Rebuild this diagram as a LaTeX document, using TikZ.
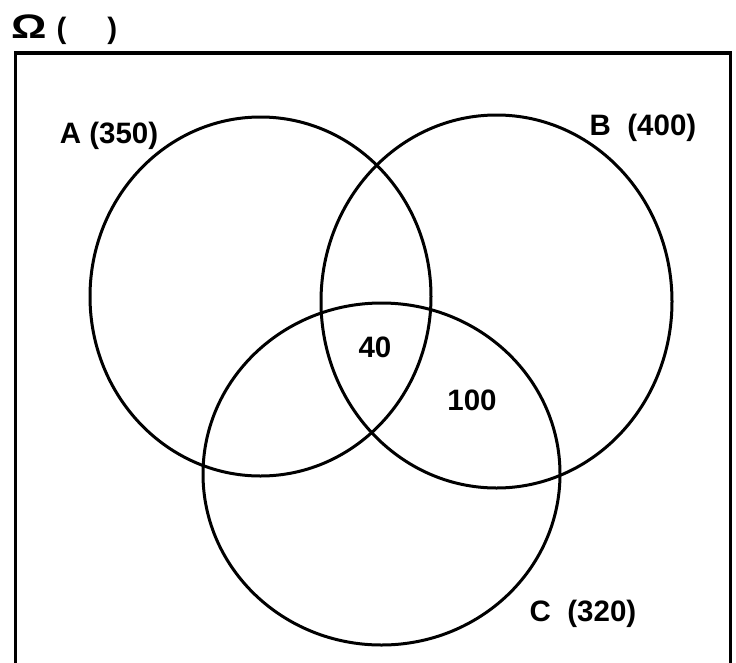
\documentclass[tikz,border=0pt]{standalone}
\usepackage{fontspec}
\setmainfont{Liberation Sans}
\usepackage{tikz}

\tikzset{
  setlbl/.style={font=\fontsize{29.5}{32}\selectfont\bfseries, inner sep=0pt, anchor=base},
  setline/.style={line width=3pt}
}

\begin{document}
\begin{tikzpicture}[x=1pt,y=-1pt]
  \useasboundingbox (0,0) rectangle (736,662);
  \draw[line width=3.6pt] (15.5,672) -- (15.5,53) -- (730.5,53) -- (730.5,672);
  \foreach \cx/\cy/\rx/\ry in {260.5/296.5/170.5/179.5,496.5/301.5/175.5/186.5,381.5/474/178.5/171}
    \draw[setline] (\cx,\cy) ellipse [x radius=\rx pt, y radius=\ry pt];
  \node[setlbl, anchor=base west] (omega) at (11,38)
    {\scalebox{1.3}[1]{\fontsize{34}{34}\selectfont Ω}\hspace{10pt}(\hspace{41pt})};
  \foreach \n/\x/\y/\t in {a/109/143/A (350),b/643/135/B\ \ (400),c/583/621/C\ \ (320),abc/375/357/40,bc/472/410/100}
    \node[setlbl] (lab\n) at (\x,\y) {\t};
\end{tikzpicture}
\end{document}
